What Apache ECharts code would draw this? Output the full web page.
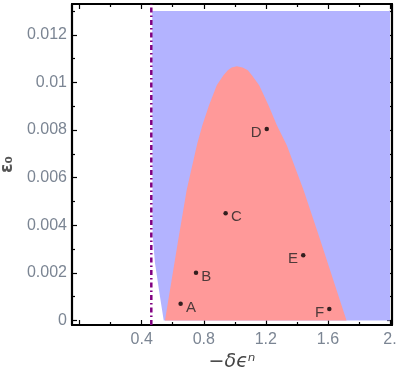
<!DOCTYPE html>
<html>
<head>
<meta charset="utf-8">
<script src="https://cdn.jsdelivr.net/npm/echarts@6/dist/echarts.min.js"></script>
<style>
  html, body { margin: 0; padding: 0; background: #fff; }
  #chart { width: 399px; height: 382px; }
</style>
</head>
<body>
<div id="chart"></div>
<script>
// axis ranges and ticks
const xMin = -0.049, xMax = 2.013
const yMin = -0.00019, yMax = 0.013294
const xMajorTicks = [0, 0.4, 0.8, 1.2, 1.6, 2.0]
const xMinorTicks = [0.2, 0.6, 1.0, 1.4, 1.8]
const xLabelValues = [0.4, 0.8, 1.2, 1.6, 2.0]
const xLabelTexts = ['0.4', '0.8', '1.2', '1.6', '2.']
const yMajorTicks = [0, 0.002, 0.004, 0.006, 0.008, 0.01, 0.012]
const yMinorTicks = [0.001, 0.003, 0.005, 0.007, 0.009, 0.011, 0.013]
const yLabelTexts = ['0', '0.002', '0.004', '0.006', '0.008', '0.01', '0.012']

// blue region boundary
const blueX = [0.468, 2.0, 2.0, 0.542, 0.518, 0.486, 0.47]
const blueY = [0.013, 0.013, 0, 0, 0.001, 0.0024, 0.0036]

// pink region boundary
const pinkX = [0.55, 0.636, 0.69, 0.757, 0.791, 0.834, 0.884, 0.927, 0.955, 0.98, 1.013, 1.05, 1.084, 1.11, 1.157, 1.217, 1.271, 1.335, 1.443, 1.54, 1.72]
const pinkY = [0, 0.0034, 0.00548, 0.0074, 0.0082, 0.00904, 0.00988, 0.0103, 0.01051, 0.01063, 0.01068, 0.01063, 0.01051, 0.0103, 0.00988, 0.00904, 0.0082, 0.00736, 0.00548, 0.00359, 0]

// dotted vertical line
const criticalX = 0.462

// labelled points
const pointNames = ['A', 'B', 'C', 'D', 'E', 'F']
const pointX = [0.651, 0.75, 0.941, 1.206, 1.441, 1.609]
const pointY = [0.0007, 0.002, 0.0045, 0.00804, 0.00274, 0.00048]

const labelLeft = ['D', 'E', 'F']
const labelColor = '#7b8593'

const frameAxis = (kind, position, ticks, len, showLine, extra) => Object.assign({
  type: 'value',
  position: position,
  min: kind === 'x' ? xMin : yMin,
  max: kind === 'x' ? xMax : yMax,
  splitLine: { show: false },
  axisLine: { show: showLine, onZero: false, lineStyle: { color: '#000', width: 2.2 } },
  axisTick: { show: true, inside: true, length: len, customValues: ticks, lineStyle: { color: '#000', width: 1.2 } },
  axisLabel: { show: false }
}, extra || {})

const chart = echarts.init(document.getElementById('chart'))
chart.setOption({
  animation: false,
  grid: { left: 72, right: 7, top: 4, bottom: 57, containLabel: false, outerBoundsMode: 'none' },
  xAxis: [
    frameAxis('x', 'bottom', xMajorTicks, 5, true, {
      axisLabel: {
        show: true, customValues: xLabelValues, margin: 7,
        color: labelColor, fontSize: 16, fontFamily: 'Liberation Sans, Arial',
        formatter: v => xLabelTexts[xLabelValues.findIndex(t => Math.abs(t - v) < 1e-9)]
      },
      name: '\u2212\u03b4\u03f5\u207f',
      nameLocation: 'middle',
      nameGap: 28,
      nameTextStyle: { fontSize: 19, fontStyle: 'italic', color: '#444', fontFamily: 'DejaVu Sans' }
    }),
    frameAxis('x', 'bottom', xMinorTicks, 3, false),
    frameAxis('x', 'top', xMajorTicks, 5, true),
    frameAxis('x', 'top', xMinorTicks, 3, false)
  ],
  yAxis: [
    frameAxis('y', 'left', yMajorTicks, 5, true, {
      axisLabel: {
        show: true, customValues: yMajorTicks, margin: 5,
        color: labelColor, fontSize: 16, fontFamily: 'Liberation Sans, Arial',
        formatter: v => yLabelTexts[yMajorTicks.findIndex(t => Math.abs(t - v) < 1e-9)]
      },
      name: '\u03b5\u2080',
      nameLocation: 'middle',
      nameRotate: 90,
      nameGap: 55,
      nameTextStyle: { fontSize: 17, fontWeight: 'bold', color: '#555', fontFamily: 'DejaVu Sans' }
    }),
    frameAxis('y', 'left', yMinorTicks, 3, false),
    frameAxis('y', 'right', yMajorTicks, 5, true),
    frameAxis('y', 'right', yMinorTicks, 3, false)
  ],
  series: [
    {
      type: 'custom',
      silent: true,
      data: [[blueX[0], blueY[0]]],
      renderItem: (params, api) => ({
        type: 'polygon',
        shape: { points: blueX.map((x, i) => api.coord([x, blueY[i]])) },
        style: { fill: '#b3b3ff' }
      }),
      z: 1
    },
    {
      type: 'custom',
      silent: true,
      data: [[pinkX[0], pinkY[0]]],
      renderItem: (params, api) => ({
        type: 'polygon',
        shape: { points: pinkX.map((x, i) => api.coord([x, pinkY[i]])) },
        style: { fill: '#ff9999' }
      }),
      z: 2
    },
    {
      type: 'line',
      data: [[criticalX, yMin], [criticalX, yMax]],
      symbol: 'none',
      lineStyle: { color: '#800080', width: 2.5, type: [5, 3, 1.5, 3] },
      z: 3
    },
    {
      type: 'scatter',
      symbolSize: 4.5,
      itemStyle: { color: '#000' },
      data: pointNames.map((n, i) => ({
        name: n,
        value: [pointX[i], pointY[i]],
        label: { position: labelLeft.includes(n) ? 'left' : 'right' }
      })),
      label: {
        show: true,
        formatter: p => p.name,
        distance: 3,
        offset: [0, 4],
        fontSize: 15,
        color: '#222',
        fontFamily: 'Liberation Sans, Arial'
      },
      z: 4
    }
  ]
})
</script>
</body>
</html>
